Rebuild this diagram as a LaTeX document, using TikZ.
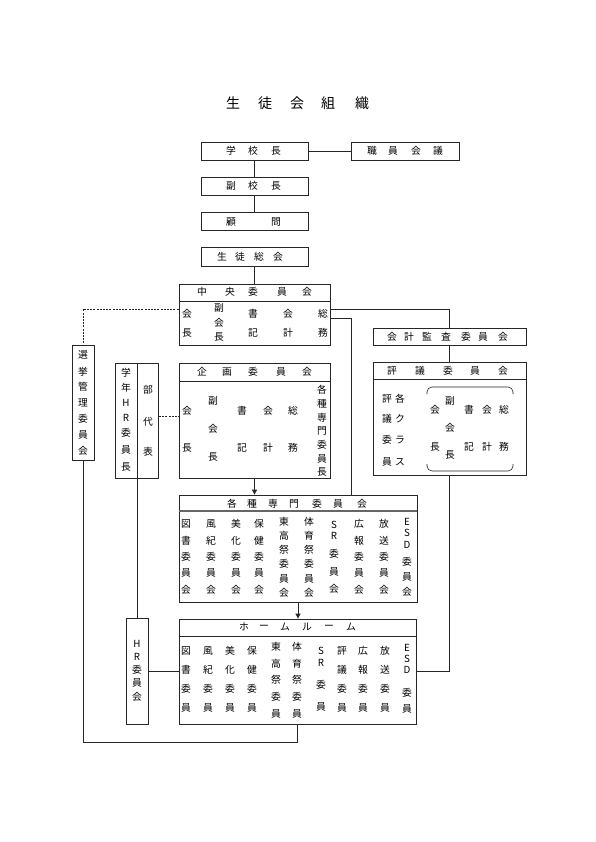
\documentclass[tikz,border=0pt]{standalone}
\usepackage{fontspec}
\setmainfont{Noto Sans CJK JP}
\usetikzlibrary{arrows.meta}
\tikzset{
  box/.style={draw=black!85, line width=0.8pt, inner sep=0pt, fill=white},
  txt/.style={inner sep=0pt, font=\fontsize{9.8}{9.8}\selectfont, text=black},
  ttl/.style={inner sep=0pt, font=\fontsize{14}{14}\selectfont, text=black},
  conn/.style={draw=black!85, line width=0.8pt},
  dconn/.style={conn, dash pattern=on 2pt off 1.2pt},
  arr/.style={conn, -{Triangle[length=5pt,width=5pt]}},
  hline/.style={draw=black!85, line width=0.8pt},
}
\newcommand\vt[3]{\node[txt] (t#1-#2) at (#1,#2) {#3};}
\newcommand\Sfive[6]{\vt{#1}{524}{#2}\vt{#1}{541}{#3}\vt{#1}{557}{#4}\vt{#1}{573}{#5}\vt{#1}{590}{#6}}
\newcommand\Ssix[7]{\vt{#1}{522}{#2}\vt{#1}{536}{#3}\vt{#1}{550}{#4}\vt{#1}{564}{#5}\vt{#1}{579}{#6}\vt{#1}{593}{#7}}
\newcommand\Hfour[5]{\vt{#1}{651}{#2}\vt{#1}{670}{#3}\vt{#1}{689}{#4}\vt{#1}{708}{#5}}
\newcommand\Hfive[6]{\vt{#1}{647}{#2}\vt{#1}{664}{#3}\vt{#1}{680}{#4}\vt{#1}{697}{#5}\vt{#1}{714}{#6}}
\begin{document}
\begin{tikzpicture}[x=1pt,y=-1pt]
\useasboundingbox (0,0) rectangle (595,842);

% title
\foreach \tch/\xx in {生/233,徒/265,会/297,組/328,織/362}
  \node[ttl] (title\xx) at (\xx,103) {\tch};

% boxes
\node[box, minimum width=107pt, minimum height=18pt] (kocho) at (254.5,151) {};
\node[box, minimum width=108pt, minimum height=18pt] (shokuin) at (405,151) {};
\node[box, minimum width=107pt, minimum height=18pt] (fuku) at (254.5,186) {};
\node[box, minimum width=107pt, minimum height=18pt] (komon) at (254.5,221.5) {};
\node[box, minimum width=107pt, minimum height=19pt] (sokai) at (254.5,256.5) {};
\node[box, minimum width=151pt, minimum height=61pt] (chuo) at (254.5,314.5) {};
\node[box, minimum width=22pt, minimum height=115pt] (senkyo) at (83,402.5) {};
\node[box, minimum width=43pt, minimum height=115pt] (gakunen) at (137,420.5) {};
\node[box, minimum width=151pt, minimum height=115pt] (kikaku) at (254.5,420.5) {};
\node[box, minimum width=153pt, minimum height=17pt] (kansa) at (449.5,336.5) {};
\node[box, minimum width=153pt, minimum height=113pt] (hyogi) at (449.5,418.5) {};
\node[box, minimum width=238pt, minimum height=107pt] (senmon) at (298,548.5) {};
\node[box, minimum width=237pt, minimum height=105pt] (hr) at (297.5,671.5) {};
\node[box, minimum width=22pt, minimum height=106pt] (hriin) at (137,671) {};

% header lines
\draw[hline] (chuo.west |- 0,301) -- (chuo.east |- 0,301);
\draw[hline] (kikaku.west |- 0,381) -- (kikaku.east |- 0,381);
\draw[hline] (hyogi.west |- 0,379) -- (hyogi.east |- 0,379);
\draw[draw=black!60, line width=1.4pt] (senmon.west |- 0,511) -- (senmon.east |- 0,511);
\draw[hline] (hr.west |- 0,636) -- (hr.east |- 0,636);
\draw[hline] (gakunen.north) -- (gakunen.south);

% bracket in hyogi
\draw[draw=black!85, line width=0.6pt, rounded corners=5pt] (427,394) -- (427,387) -- (513,387) -- (513,394);
\draw[draw=black!85, line width=0.6pt, rounded corners=5pt] (427,464) -- (427,471) -- (513,471) -- (513,464);

% connectors
\draw[conn] (kocho.east) -- (shokuin.west);
\draw[conn] (kocho.south) -- (fuku.north);
\draw[conn] (fuku.south) -- (komon.north);
\draw[conn] (sokai.south) -- (chuo.north);
\draw[conn] (chuo.east |- 0,309) -| (kansa.north);
\coordinate (smtop) at (351,495);
\draw[conn] (chuo.east |- 0,318) -| (smtop);
\draw[dconn] (chuo.west |- 0,309) -| (senkyo.north);
\draw[dconn] (gakunen.east |- 0,416) -- (kikaku.west |- 0,416);
\draw[conn] (kansa.south) -- (hyogi.north);
\draw[arr] (kikaku.south) -- (senmon.north -| kikaku.south);
\draw[arr] (senmon.south) -- (hr.north -| senmon.south);
\draw[conn] (gakunen.south) -- (hriin.north);
\draw[conn] (hriin.east) -- (hr.west |- hriin.east);
\draw[conn] (hyogi.south) |- (hr.east |- 0,671);
\coordinate (bot) at (297,742);
\draw[conn] (senkyo.south) |- (bot) -- (hr.south -| bot);

% box headers
\foreach \tch/\xx in {学/231,校/253,長/276} \node[txt] (a\xx) at (\xx,151) {\tch};
\foreach \tch/\xx in {職/372,員/393,会/416,議/438} \node[txt] (b\xx) at (\xx,151) {\tch};
\foreach \tch/\xx in {副/231,校/253,長/276} \node[txt] (c\xx) at (\xx,186) {\tch};
\foreach \tch/\xx in {顧/231,問/276} \node[txt] (d\xx) at (\xx,222) {\tch};
\foreach \tch/\xx in {生/222,徒/240,総/259,会/278} \node[txt] (e\xx) at (\xx,257) {\tch};
\foreach \tch/\xx in {中/202,央/230,委/253,員/282,会/307} \node[txt] (f\xx) at (\xx,292) {\tch};
\foreach \tch/\xx in {企/202,画/227,委/253,員/281,会/307} \node[txt] (g\xx) at (\xx,372) {\tch};
\foreach \tch/\xx in {会/392,計/409,監/427,査/446,委/466,員/483,会/503} \node[txt] (h\xx) at (\xx,337) {\tch};
\foreach \tch/\xx in {評/392,議/420,委/448,員/475,会/503} \node[txt] (i\xx) at (\xx,371) {\tch};
\foreach \tch/\xx in {各/232,種/252,専/273,門/294,委/317,員/338,会/362} \node[txt] (j\xx) at (\xx,504) {\tch};
\foreach \tch/\xx in {ホ/244,ー/264,ム/285,ル/307,ー/329,ム/351} \node[txt] (k\xx) at (\xx,627) {\tch};

% vertical labels
\foreach \tch/\yy in {選/355,挙/372,管/387,理/403,委/419,員/435,会/451} \node[txt] (l\yy) at (83,\yy) {\tch};
\foreach \tch/\yy in {学/373,年/388,H/403,R/418,委/433,員/450,長/467} \node[txt] (m\yy) at (126,\yy) {\tch};
\foreach \tch/\yy in {部/390,代/422,表/452} \node[txt] (n\yy) at (148,\yy) {\tch};
\foreach \tch/\yy in {H/644,R/657,委/670,員/683,会/697} \node[txt] (o\yy) at (137,\yy) {\tch};

% central committee
\vt{187}{314}{会}\vt{187}{333}{長}
\vt{219}{308}{副}\vt{219}{323}{会}\vt{219}{337}{長}
\vt{253}{314}{書}\vt{253}{333}{記}
\vt{288}{314}{会}\vt{288}{333}{計}
\vt{323}{314}{総}\vt{323}{333}{務}

% planning committee
\vt{187}{411}{会}\vt{187}{448}{長}
\vt{213}{401}{副}\vt{213}{429}{会}\vt{213}{457}{長}
\vt{242}{411}{書}\vt{242}{448}{記}
\vt{268}{411}{会}\vt{268}{448}{計}
\vt{293}{411}{総}\vt{293}{448}{務}
\foreach \tch/\yy in {各/390,種/404,専/418,門/431,委/445,員/459,長/472} \node[txt] (p\yy) at (322,\yy) {\tch};

% council
\foreach \tch/\yy in {評/399,議/419,委/440,員/462} \node[txt] (q\yy) at (387,\yy) {\tch};
\foreach \tch/\yy in {各/399,ク/419,ラ/440,ス/462} \node[txt] (r\yy) at (400,\yy) {\tch};
\vt{435}{410}{会}\vt{435}{447}{長}
\vt{450}{401}{副}\vt{450}{428}{会}\vt{450}{455}{長}
\vt{469}{410}{書}\vt{469}{447}{記}
\vt{487}{410}{会}\vt{487}{447}{計}
\vt{504}{410}{総}\vt{504}{447}{務}

% special committees
\Sfive{186}{図}{書}{委}{員}{会}
\Sfive{211}{風}{紀}{委}{員}{会}
\Sfive{236}{美}{化}{委}{員}{会}
\Sfive{259}{保}{健}{委}{員}{会}
\Ssix{284}{東}{高}{祭}{委}{員}{会}
\Ssix{309}{体}{育}{祭}{委}{員}{会}
\vt{334}{525}{S}\vt{334}{536}{R}\vt{334}{554}{委}\vt{334}{572}{員}\vt{334}{589}{会}
\Sfive{359}{広}{報}{委}{員}{会}
\Sfive{384}{放}{送}{委}{員}{会}
\vt{407}{522}{E}\vt{407}{533}{S}\vt{407}{545}{D}\vt{407}{562}{委}\vt{407}{577}{員}\vt{407}{592}{会}

% homeroom
\Hfour{186}{図}{書}{委}{員}
\Hfour{208}{風}{紀}{委}{員}
\Hfour{230}{美}{化}{委}{員}
\Hfour{252}{保}{健}{委}{員}
\Hfive{276}{東}{高}{祭}{委}{員}
\Hfive{297}{体}{育}{祭}{委}{員}
\vt{321}{651}{S}\vt{321}{663}{R}\vt{321}{685}{委}\vt{321}{707}{員}
\Hfour{342}{評}{議}{委}{員}
\Hfour{363}{広}{報}{委}{員}
\Hfour{385}{放}{送}{委}{員}
\vt{407}{648}{E}\vt{407}{659}{S}\vt{407}{670}{D}\vt{407}{693}{委}\vt{407}{709}{員}
\end{tikzpicture}
\end{document}
